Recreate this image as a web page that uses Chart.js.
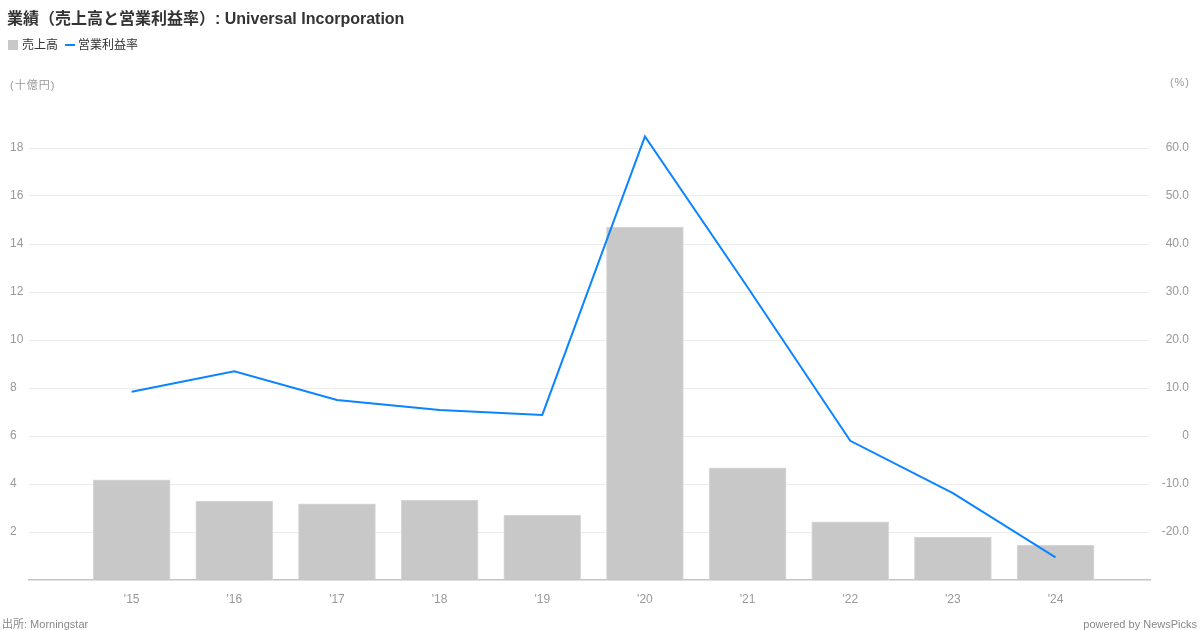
<!DOCTYPE html>
<html>
<head>
<meta charset="utf-8">
<script src="https://cdn.jsdelivr.net/npm/chart.js@4"></script>
<style>
  body { margin: 0; background: #fff; font-family: 'Liberation Sans', 'Noto Sans CJK JP', sans-serif; }
  #wrap { position: relative; width: 1200px; height: 630px; }
  canvas { position: absolute; left: 0; top: 0; }
  .t { position: absolute; white-space: nowrap; }
  #title { left: 7px; top: 5px; font-size: 16px; font-weight: bold; color: #333; }
  .leg { top: 35px; font-size: 12px; color: #333; }
  .unit { top: 76px; font-size: 11px; color: #999; letter-spacing: 1px; }
  .foot { top: 617px; font-size: 11px; line-height: 14px; color: #888; }
</style>
</head>
<body>
<div id="wrap">
  <canvas id="c" width="1200" height="630"></canvas>
  <div class="t" id="title">業績（売上高と営業利益率）: Universal Incorporation</div>
  <div class="t leg" style="left:8px;"><span style="display:inline-block;width:10px;height:10px;background:#c8c8c8;vertical-align:-1px;margin-right:4px;"></span>売上高</div>
  <div class="t leg" style="left:65px;"><span style="display:inline-block;width:10px;height:2px;background:#0a84ff;vertical-align:3px;margin-right:3px;"></span>営業利益率</div>
  <div class="t unit" style="left:10px;">(十億円)</div>
  <div class="t unit" style="right:10px;">(%)</div>
  <div class="t foot" style="left:2px;">出所: Morningstar</div>
  <div class="t foot" style="right:3px;">powered by NewsPicks</div>
</div>
<script>
const years = ["'15", "'16", "'17", "'18", "'19", "'20", "'21", "'22", "'23", "'24"];
const sales = [4.17, 3.29, 3.17, 3.33, 2.71, 14.71, 4.67, 2.42, 1.79, 1.46];
const opMargin = [9.2, 13.5, 7.5, 5.4, 4.4, 62.4, 31.0, -1.0, -11.9, -25.3];

const font = { family: "'Liberation Sans', 'Noto Sans CJK JP', sans-serif", size: 12 };

new Chart(document.getElementById('c'), {
    data: {
        datasets: [{
            type: 'line',
            data: opMargin.map((v, i) => ({ x: i, y: v })),
            yAxisID: 'y2',
            borderColor: '#0a84ff',
            borderWidth: 2,
            pointRadius: 0,
            tension: 0
        }, {
            type: 'bar',
            data: sales.map((v, i) => ({ x: i, y: v })),
            yAxisID: 'y',
            backgroundColor: '#c8c8c8',
            borderColor: '#dadada',
            borderWidth: 1,
            barThickness: 77
        }]
    },
    options: {
        responsive: false,
        animation: false,
        layout: { padding: { left: 10, right: 11, top: 100, bottom: 0 } },
        plugins: { legend: { display: false }, tooltip: { enabled: false } },
        scales: {
            x: {
                type: 'linear',
                offset: false,
                min: -1,
                max: 9.92,
                afterBuildTicks: s => { s.ticks = years.map((_, i) => ({ value: i })); },
                afterFit: s => { s.height = 50; },
                grid: { display: false, drawTicks: false, offset: false },
                border: { color: '#c4c4c4', width: 1.5 },
                ticks: { callback: v => years[v] || '', color: '#999', font, padding: 12, maxRotation: 0 }
            },
            y: {
                position: 'left',
                min: 0,
                max: 20,
                afterFit: s => { s.width = 19; },
                grid: { color: c => (c.tick.value > 0 && c.tick.value < 20) ? '#ececec' : 'rgba(0,0,0,0)', drawTicks: false },
                border: { display: false },
                ticks: {
                    stepSize: 2,
                    crossAlign: 'far',
                    callback: v => (v > 0 && v < 20) ? v : '',
                    color: '#999', font
                }
            },
            y2: {
                position: 'right',
                min: -30,
                max: 70,
                afterFit: s => { s.width = 39; },
                grid: { display: false, drawTicks: false },
                border: { display: false },
                ticks: {
                    stepSize: 10,
                    crossAlign: 'far',
                    callback: v => (v > -30 && v < 70) ? (v === 0 ? '0' : v.toFixed(1)) : '',
                    color: '#999', font
                }
            }
        }
    }
});
</script>
</body>
</html>
